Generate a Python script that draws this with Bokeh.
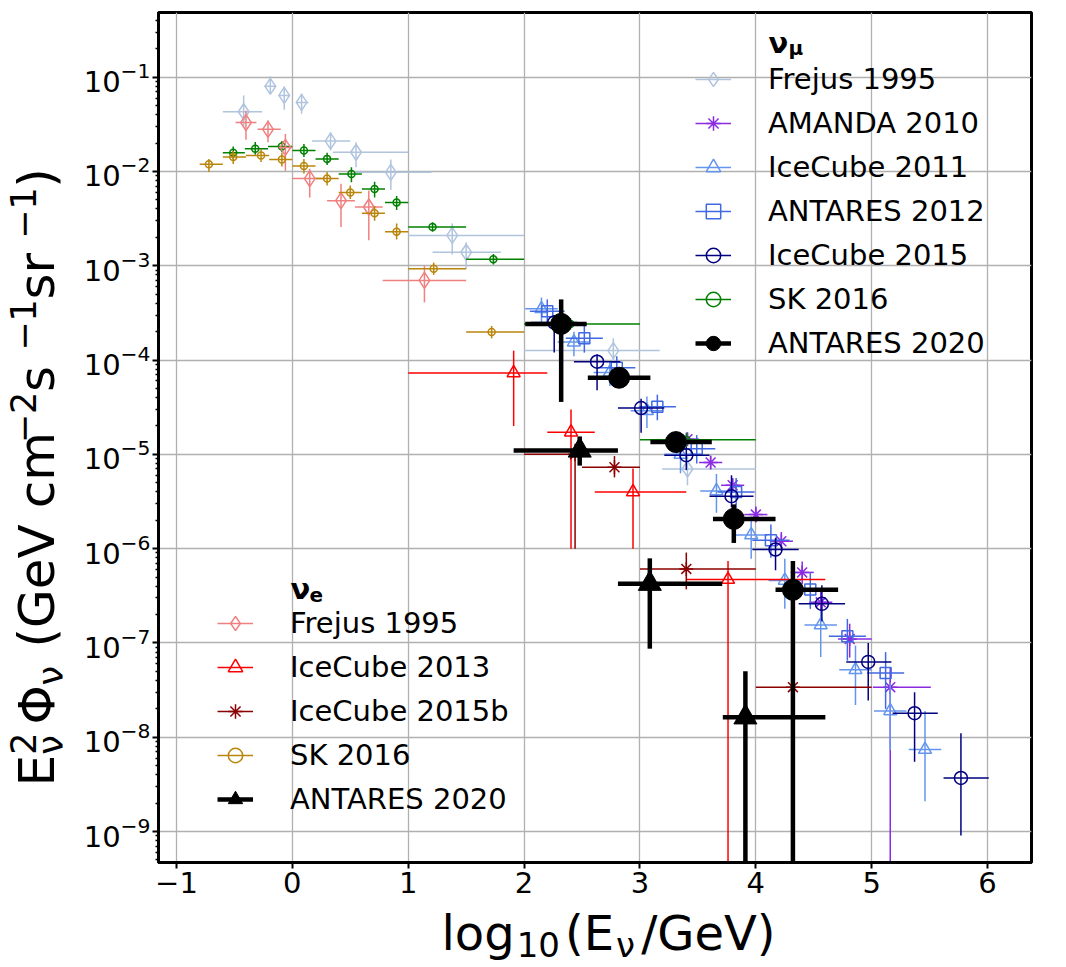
from bokeh.plotting import figure
from bokeh.models import (ColumnDataSource, Legend, LegendItem, Label,
                          FixedTicker, Range1d)
from bokeh.layouts import column, row
from bokeh.core.properties import value
from bokeh.embed import file_html
from bokeh.resources import INLINE

ZERO = 1e-12  # error bar reaching zero flux (runs off the bottom of the log axis)

# ---------------- nu_mu data: log10(E/GeV), E^2 Phi ----------------
fr_mu_x = [-0.42, -0.19, -0.07, 0.08, 0.33, 0.55, 0.85, 1.38, 1.50, 2.77, 3.41]
fr_mu_xlo = [-0.60, -0.24, -0.12, 0.03, 0.17, 0.35, 0.54, 1.00, 1.21, 2.00, 3.19]
fr_mu_xhi = [-0.26, -0.14, -0.02, 0.14, 0.50, 1.00, 1.20, 2.00, 1.80, 3.17, 4.00]
fr_mu_y = [0.043, 0.080, 0.064, 0.054, 0.021, 0.016, 0.0098, 0.0021, 0.00139, 1.26e-4, 7.0e-6]
fr_mu_ylo = [0.0295, 0.067, 0.045, 0.041, 0.0167, 0.0111, 0.0064, 0.00132, 0.00093, 9.5e-5, 4.7e-6]
fr_mu_yhi = [0.064, 0.102, 0.080, 0.067, 0.026, 0.0204, 0.0134, 0.0028, 0.00178, 1.7e-4, 1.0e-5]

am_x = [3.41, 3.61, 3.80, 4.00, 4.22, 4.40, 4.56, 4.81, 5.16]
am_xlo = [3.31, 3.51, 3.70, 3.90, 4.12, 4.30, 4.46, 4.71, 5.01]
am_xhi = [3.51, 3.71, 3.90, 4.10, 4.32, 4.50, 4.66, 5.00, 5.51]
am_y = [1.45e-5, 8.2e-6, 4.7e-6, 2.3e-6, 1.2e-6, 5.6e-7, 2.7e-7, 1.1e-7, 3.4e-8]
am_ylo = [1.25e-5, 7.0e-6, 3.9e-6, 1.9e-6, 9.5e-7, 4.2e-7, 1.9e-7, 7.0e-8, ZERO]
am_yhi = [1.7e-5, 9.6e-6, 5.6e-6, 2.8e-6, 1.5e-6, 7.3e-7, 3.6e-7, 1.6e-7, 5.5e-8]

ic11_x = [2.15, 2.43, 2.74, 3.06, 3.35, 3.66, 3.96, 4.25, 4.56, 4.86, 5.16, 5.46]
ic11_xlo = [2.01, 2.29, 2.60, 2.92, 3.21, 3.52, 3.82, 4.11, 4.42, 4.72, 5.02, 5.32]
ic11_xhi = [2.29, 2.57, 2.88, 3.20, 3.49, 3.80, 4.10, 4.39, 4.70, 5.00, 5.30, 5.60]
ic11_y = [3.5e-4, 1.55e-4, 7.4e-5, 2.9e-5, 1.0e-5, 4.1e-6, 1.4e-6, 4.6e-7, 1.55e-7, 5.2e-8, 1.9e-8, 7.4e-9]
ic11_ylo = [2.5e-4, 1.1e-4, 5.3e-5, 1.9e-5, 6.3e-6, 2.4e-6, 7.8e-7, 2.3e-7, 7.1e-8, 2.2e-8, 7.3e-9, 2.1e-9]
ic11_yhi = [4.6e-4, 2.0e-4, 9.6e-5, 4.1e-5, 1.5e-5, 6.2e-6, 2.2e-6, 7.8e-7, 2.2e-7, 9.4e-8, 3.8e-8, 1.9e-8]

an12_x = [2.20, 2.52, 2.80, 3.15, 3.49, 3.83, 4.13, 4.47, 4.79, 5.12]
an12_xlo = [2.05, 2.36, 2.64, 2.99, 3.33, 3.67, 3.97, 4.31, 4.63, 4.96]
an12_xhi = [2.35, 2.68, 2.96, 3.31, 3.65, 3.99, 4.29, 4.63, 4.95, 5.28]
an12_y = [3.3e-4, 1.7e-4, 8.3e-5, 3.2e-5, 1.15e-5, 4.0e-6, 1.23e-6, 3.7e-7, 1.18e-7, 4.8e-8]
an12_ylo = [2.3e-4, 1.2e-4, 6.0e-5, 2.3e-5, 8.0e-6, 2.7e-6, 8.0e-7, 2.3e-7, 6.5e-8, 2.0e-8]
an12_yhi = [4.4e-4, 2.3e-4, 1.1e-4, 4.3e-5, 1.6e-5, 5.6e-6, 1.8e-6, 5.6e-7, 1.8e-7, 8.0e-8]

ic15_x = [2.26, 2.63, 3.01, 3.40, 3.79, 4.17, 4.57, 4.97, 5.37, 5.77]
ic15_xlo = [2.06, 2.43, 2.81, 3.21, 3.60, 3.97, 4.37, 4.78, 5.18, 5.62]
ic15_xhi = [2.46, 2.83, 3.21, 3.60, 3.98, 4.37, 4.77, 5.17, 5.57, 6.01]
ic15_y = [2.5e-4, 9.6e-5, 3.1e-5, 9.8e-6, 3.6e-6, 9.8e-7, 2.6e-7, 6.3e-8, 1.8e-8, 3.7e-9]
ic15_ylo = [1.2e-4, 4.8e-5, 1.7e-5, 6.8e-6, 2.75e-6, 5.9e-7, 1.7e-7, 2.45e-8, 5.5e-9, 9.1e-10]
ic15_yhi = [3.0e-4, 1.15e-4, 3.9e-5, 1.2e-5, 6.0e-6, 1.3e-6, 4.1e-7, 1.0e-7, 3.0e-8, 1.1e-8]

sk_mu_x = [-0.51, -0.32, -0.09, 0.10, 0.30, 0.51, 0.71, 0.90, 1.21, 1.735, 2.40, 3.40]
sk_mu_xlo = [-0.60, -0.41, -0.21, 0.00, 0.20, 0.40, 0.60, 0.80, 1.00, 1.50, 2.00, 3.00]
sk_mu_xhi = [-0.41, -0.21, 0.00, 0.20, 0.40, 0.60, 0.80, 1.00, 1.50, 2.00, 3.00, 4.00]
sk_mu_y = [0.0158, 0.0174, 0.0184, 0.0167, 0.0136, 0.0094, 0.0065, 0.0047, 0.00257, 0.00117, 2.42e-4, 1.43e-5]
sk_mu_ylo = [0.0136, 0.0150, 0.0160, 0.0142, 0.0117, 0.0077, 0.0053, 0.0039, 0.0023, 0.00103, 2.1e-4, 1.2e-5]
sk_mu_yhi = [0.0184, 0.0205, 0.0210, 0.0195, 0.0158, 0.0111, 0.0078, 0.0055, 0.0029, 0.00133, 2.8e-4, 1.7e-5]

an20m_x = [2.32, 2.82, 3.31, 3.81, 4.32]
an20m_xlo = [2.01, 2.55, 3.09, 3.63, 4.17]
an20m_xhi = [2.54, 3.09, 3.62, 4.17, 4.71]
an20m_y = [2.42e-4, 6.5e-5, 1.35e-5, 2.07e-6, 3.66e-7]
an20m_ylo = [3.6e-5, 5.6e-5, 1.2e-5, 1.15e-6, ZERO]
an20m_yhi = [4.4e-4, 7.6e-5, 1.55e-5, 2.95e-6, 7.4e-7]

# ---------------- nu_e data ----------------
fr_e_x = [-0.40, -0.21, -0.06, 0.15, 0.42, 0.66, 1.14]
fr_e_xlo = [-0.49, -0.30, -0.12, 0.00, 0.30, 0.54, 0.78]
fr_e_xhi = [-0.31, -0.10, 0.00, 0.28, 0.54, 0.78, 1.50]
fr_e_y = [0.033, 0.028, 0.018, 0.0084, 0.0049, 0.0042, 7.0e-4]
fr_e_ylo = [0.0217, 0.0204, 0.0102, 0.0053, 0.00257, 0.00186, 4.1e-4]
fr_e_yhi = [0.044, 0.035, 0.025, 0.0107, 0.0074, 0.0063, 0.0010]

ic13_x = [1.91, 2.405, 2.94, 3.76]
ic13_xlo = [1.00, 2.20, 2.61, 3.40]
ic13_xhi = [2.20, 2.61, 3.40, 4.60]
ic13_y = [7.3e-5, 1.72e-5, 4.0e-6, 4.7e-7]
ic13_ylo = [2.0e-5, 1.0e-6, 1.0e-6, ZERO]
ic13_yhi = [1.26e-4, 3.0e-5, 7.1e-6, 7.4e-7]

ic15b_x = [2.44, 2.78, 3.40, 4.32]
ic15b_xlo = [2.00, 2.50, 3.00, 4.00]
ic15b_xhi = [2.50, 3.00, 4.00, 5.00]
ic15b_y = [1.0e-5, 7.3e-6, 6.1e-7, 3.4e-8]
ic15b_ylo = [1.0e-6, 5.7e-6, 3.7e-7, 2.1e-9]
ic15b_yhi = [1.3e-5, 9.6e-6, 9.1e-7, 6.5e-8]

sk_e_x = [-0.72, -0.51, -0.27, -0.09, 0.10, 0.30, 0.50, 0.71, 0.90, 1.22, 1.72]
sk_e_xlo = [-0.80, -0.60, -0.40, -0.20, 0.00, 0.20, 0.40, 0.60, 0.80, 1.00, 1.50]
sk_e_xhi = [-0.60, -0.40, -0.20, 0.00, 0.20, 0.40, 0.60, 0.80, 1.00, 1.50, 2.00]
sk_e_y = [0.0119, 0.0142, 0.0148, 0.0134, 0.0114, 0.0084, 0.0060, 0.0036, 0.0023, 9.3e-4, 1.98e-4]
sk_e_ylo = [0.0099, 0.0120, 0.0126, 0.0113, 0.0095, 0.0071, 0.0051, 0.0030, 0.0019, 8.0e-4, 1.7e-4]
sk_e_yhi = [0.0136, 0.0165, 0.0172, 0.0158, 0.0136, 0.0099, 0.0071, 0.0043, 0.0028, 1.08e-3, 2.3e-4]

an20e_x = [2.48, 3.085, 3.91]
an20e_xlo = [1.91, 2.81, 3.715]
an20e_xhi = [2.81, 3.71, 4.60]
an20e_y = [1.1e-5, 4.25e-7, 1.63e-8]
an20e_ylo = [7.6e-6, 8.7e-8, ZERO]
an20e_yhi = [1.55e-5, 7.9e-7, 5.0e-8]

x_ticks = [-1, 0, 1, 2, 3, 4, 5, 6]
y_ticks = [1e-9, 1e-8, 1e-7, 1e-6, 1e-5, 1e-4, 1e-3, 1e-2, 1e-1]
y_minor = [m * t for t in [1e-10] + y_ticks for m in range(2, 10)]

FONT = "DejaVu Sans"
YW = 80          # width of the strip holding the y-axis title
PW = 978         # main figure width
PH = 905         # main figure height
XH = 62          # height of the strip holding the x-axis title

p = figure(width=PW, height=PH, y_axis_type="log",
           x_range=Range1d(-1.155, 6.379), y_range=Range1d(4.7e-10, 0.485),
           output_backend="svg", toolbar_location=None,
           min_border_left=77, min_border_right=27,
           min_border_top=12, min_border_bottom=PH - 12 - 850)
p.background_fill_color = "white"
p.border_fill_color = "white"
p.outline_line_color = "black"
p.outline_line_width = 3

p.xaxis.ticker = FixedTicker(ticks=x_ticks)
p.yaxis.ticker = FixedTicker(ticks=y_ticks, minor_ticks=y_minor)
for ax in (p.xaxis[0], p.yaxis[0]):
    ax.axis_line_color = "black"
    ax.axis_line_width = 3
    ax.major_tick_in = 0
    ax.major_tick_out = 6
    ax.minor_tick_in = 0
    ax.minor_tick_out = 3
    ax.major_tick_line_width = 2
    ax.minor_tick_line_width = 1.5
    ax.major_tick_line_color = "black"
    ax.minor_tick_line_color = "black"
    ax.major_label_text_font = FONT
    ax.major_label_text_font_size = "29px"
    ax.major_label_text_color = "black"
p.xaxis.major_label_standoff = 3
p.yaxis.major_label_standoff = 2

for g in (p.xgrid[0], p.ygrid[0]):
    g.grid_line_color = "#b0b0b0"
    g.grid_line_width = 1.3
    g.grid_line_alpha = 1.0


def errorbars(x, xlo, xhi, y, ylo, yhi, color, marker, size, lw, filled):
    src = ColumnDataSource(dict(x=x, xlo=xlo, xhi=xhi, y=y, ylo=ylo, yhi=yhi))
    h = p.segment(x0="xlo", y0="y", x1="xhi", y1="y", source=src,
                  line_color=color, line_width=lw)
    p.segment(x0="x", y0="ylo", x1="x", y1="yhi", source=src,
              line_color=color, line_width=lw)
    m = p.scatter(x="x", y="y", source=src, marker=marker, size=size,
                  line_color=color, line_width=1.5 if not filled else 1,
                  fill_color=color if filled else None)
    cross = p.scatter(x=[], y=[], marker="cross", size=size,
                      line_color=color, line_width=lw)
    return [h, cross, m]


THIN = 1.5
THICK = 4.5
r_fr_mu = errorbars(fr_mu_x, fr_mu_xlo, fr_mu_xhi, fr_mu_y, fr_mu_ylo, fr_mu_yhi,
                    "lightsteelblue", "diamond", 16, THIN, False)
r_am = errorbars(am_x, am_xlo, am_xhi, am_y, am_ylo, am_yhi,
                 "blueviolet", "asterisk", 14, THIN, False)
r_ic11 = errorbars(ic11_x, ic11_xlo, ic11_xhi, ic11_y, ic11_ylo, ic11_yhi,
                   "cornflowerblue", "triangle", 13, THIN, False)
r_an12 = errorbars(an12_x, an12_xlo, an12_xhi, an12_y, an12_ylo, an12_yhi,
                   "royalblue", "square", 11, THIN, False)
r_ic15 = errorbars(ic15_x, ic15_xlo, ic15_xhi, ic15_y, ic15_ylo, ic15_yhi,
                   "navy", "circle", 13, THIN, False)
r_sk_mu = errorbars(sk_mu_x, sk_mu_xlo, sk_mu_xhi, sk_mu_y, sk_mu_ylo, sk_mu_yhi,
                    "green", "circle", 7, THIN, False)
r_fr_e = errorbars(fr_e_x, fr_e_xlo, fr_e_xhi, fr_e_y, fr_e_ylo, fr_e_yhi,
                   "lightcoral", "diamond", 16, THIN, False)
r_ic13 = errorbars(ic13_x, ic13_xlo, ic13_xhi, ic13_y, ic13_ylo, ic13_yhi,
                   "red", "triangle", 13, THIN, False)
r_ic15b = errorbars(ic15b_x, ic15b_xlo, ic15b_xhi, ic15b_y, ic15b_ylo, ic15b_yhi,
                    "darkred", "asterisk", 14, THIN, False)
r_sk_e = errorbars(sk_e_x, sk_e_xlo, sk_e_xhi, sk_e_y, sk_e_ylo, sk_e_yhi,
                   "darkgoldenrod", "circle", 7, THIN, False)
r_an20m = errorbars(an20m_x, an20m_xlo, an20m_xhi, an20m_y, an20m_ylo, an20m_yhi,
                    "black", "circle", 21, THICK, True)
r_an20e = errorbars(an20e_x, an20e_xlo, an20e_xhi, an20e_y, an20e_ylo, an20e_yhi,
                    "black", "triangle", 23, THICK, True)


def make_legend(items, loc):
    leg = Legend(items=[LegendItem(label=lab, renderers=r) for lab, r in items],
                 location=loc, padding=0, margin=0, spacing=8,
                 glyph_width=36, glyph_height=36, label_standoff=37,
                 label_text_font=FONT, label_text_font_size="29px",
                 label_text_color="black", label_text_baseline="middle",
                 border_line_alpha=0, background_fill_alpha=0)
    p.add_layout(leg)


make_legend([("Frejus 1995", r_fr_mu), ("AMANDA 2010", r_am),
             ("IceCube 2011", r_ic11), ("ANTARES 2012", r_an12),
             ("IceCube 2015", r_ic15), ("SK 2016", r_sk_mu),
             ("ANTARES 2020", r_an20m)], (537, 501))
make_legend([("Frejus 1995", r_fr_e), ("IceCube 2013", r_ic13),
             ("IceCube 2015b", r_ic15b), ("SK 2016", r_sk_e),
             ("ANTARES 2020", r_an20e)], (59, 45))


def label(text, x, y, size, bold=False):
    p.add_layout(Label(x=x, y=y, x_units="screen", y_units="screen", text=text,
                       text_font=FONT, text_font_size=f"{size}px",
                       text_font_style="bold" if bold else "normal",
                       text_color="black", text_align="left",
                       text_baseline="alphabetic"))


# legend titles (nu_mu, nu_e)
label("ν", 610, 820, 29, bold=True)
label("μ", 630, 815, 20, bold=True)
label("ν", 132, 274, 29, bold=True)
label("e", 151, 268, 20, bold=True)

# DejaVu Sans advance widths (em) used to lay out the composed axis titles
W = {"E": .632, "2": .636, "ν": .592, " ": .318, "Φ": .790, "(": .390, "G": .775,
     "e": .615, "V": .684, "c": .550, "m": .974, "−": .838, "s": .521, "1": .636,
     "r": .411, ")": .390, "l": .278, "o": .612, "g": .635, "0": .636, "/": .337}
MID = 0.346  # distance (em) from the alphabetic baseline to the text middle


def width(t, size):
    return sum(W[ch] for ch in t) * size


def strip(w, h):
    f = figure(width=w, height=h, x_range=Range1d(0, w), y_range=Range1d(0, h),
               output_backend="svg", toolbar_location=None,
               x_axis_location=None, y_axis_location=None,
               min_border=0, outline_line_color=None)
    f.xgrid.visible = False
    f.ygrid.visible = False
    f.background_fill_color = "white"
    f.border_fill_color = "white"
    return f


def put(f, t, x, y, size, angle=0.0):
    f.text(x=[x], y=[y], text=[t], angle=angle, text_font=value(FONT),
           text_font_size=value(f"{size}px"), text_color="black",
           text_align="left", text_baseline="middle")


# x-axis title: log10(E_nu/GeV); page baselines 949 (main) and 956 (subscripts)
xs = strip(YW + PW, XH)
BIG, SMALL = 48, 34
base_main = XH - (949 - PH)
base_sub = XH - (956 - PH)
pos = 441
for t, kind in [("log", "n"), ("10", "sub"), ("(E", "n"), ("ν", "sub"), ("/GeV)", "n")]:
    if kind == "n":
        put(xs, t, pos, base_main + MID * BIG, BIG)
        pos += width(t, BIG) + 2
    else:
        put(xs, t, pos, base_sub + MID * SMALL, SMALL)
        pos += width(t, SMALL) + 5

# y-axis title: E^2_nu Phi_nu (GeV cm^-2 s^-1 sr^-1), rotated; baseline at page x 54
ys = strip(YW, PH)
YB, YS = 50, 35
ANG = 1.5707963267948966
BX = 54 - MID * YB
SUPX = 35 - MID * YS
SUBX = 63 - MID * YS
pos = PH - 824
GAP = 1
seq = [("E", "n"), (("2", "ν"), "both"), ("", "gap"), ("Φ", "n"), ("ν", "sub"),
       (" ", "n"), ("(GeV cm", "n"), ("−2", "sup"), (" s", "n"), ("−1", "sup"),
       (" sr", "n"), ("−1", "sup"), (")", "n")]
for t, kind in seq:
    if kind == "n":
        if t.strip():
            put(ys, t, BX, pos, YB, ANG)
        pos += width(t, YB) + GAP
    elif kind == "gap":
        pos += 6
    elif kind == "both":
        put(ys, t[0], SUPX, pos + 1, YS, ANG)
        put(ys, t[1], SUBX, pos + 1, YS, ANG)
        pos += max(width(t[0], YS), width(t[1], YS)) + 4 + GAP
    elif kind == "sup":
        put(ys, t, SUPX, pos + 1, YS, ANG)
        pos += width(t, YS) + 3 + GAP
    else:
        put(ys, t, SUBX, pos + 1, YS, ANG)
        pos += width(t, YS) + 3 + GAP

layout = column(row(ys, p), xs)
open("out.html", "w").write(file_html(layout, INLINE))
